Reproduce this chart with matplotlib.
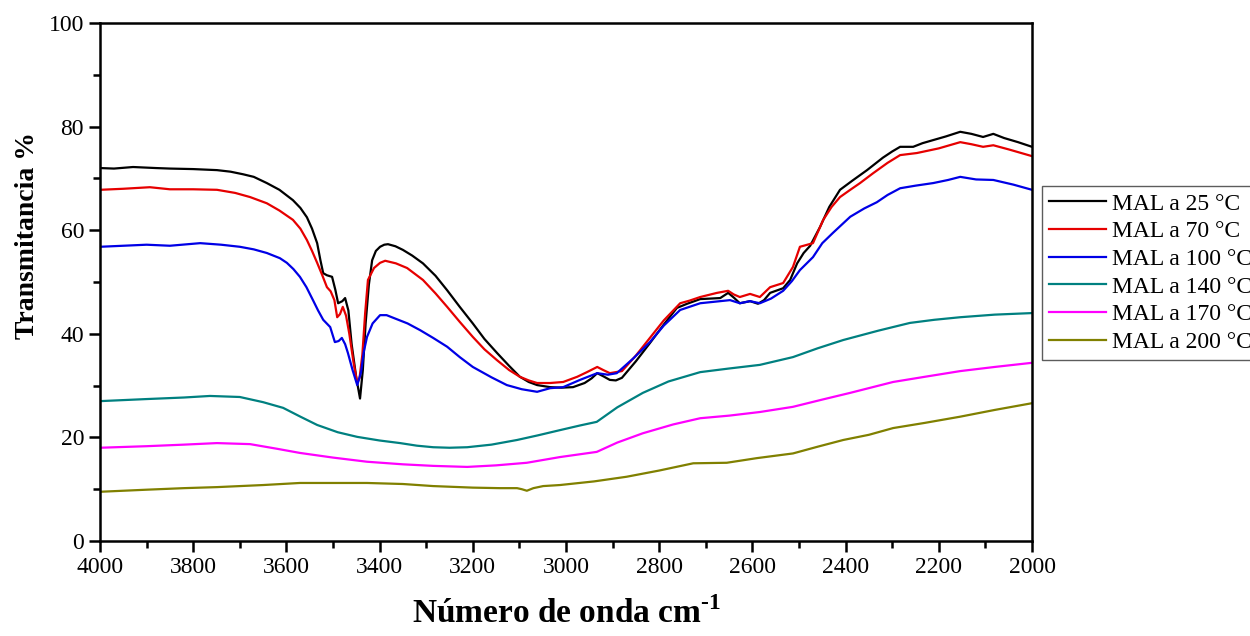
import matplotlib
matplotlib.use("Agg")
import matplotlib.pyplot as plt
from matplotlib.ticker import MultipleLocator

plt.rcParams['font.family'] = ['Liberation Serif', 'DejaVu Serif']
plt.rcParams['mathtext.fontset'] = 'custom'
plt.rcParams['mathtext.rm'] = 'Liberation Serif:bold'
plt.rcParams['mathtext.bf'] = 'Liberation Serif:bold'

# FTIR spectra (wavenumber in cm-1, transmittance in %)
wn_25 = [4000, 3970, 3929, 3880, 3850, 3800, 3749, 3720, 3693, 3670, 3642, 3615, 3586, 3570,
         3556, 3545, 3534, 3527, 3521, 3513, 3502, 3495, 3489, 3480, 3474, 3467, 3460, 3450,
         3442, 3436, 3430, 3423, 3416, 3408, 3399, 3390, 3382, 3366, 3350, 3330, 3307, 3280,
         3255, 3228, 3200, 3175, 3148, 3122, 3099, 3080, 3062, 3034, 3010, 2985, 2960, 2945,
         2933, 2920, 2906, 2893, 2880, 2850, 2820, 2790, 2762, 2740, 2712, 2690, 2669, 2652,
         2640, 2627, 2605, 2588, 2575, 2562, 2534, 2519, 2504, 2490, 2476, 2455, 2435, 2412,
         2385, 2354, 2320, 2300, 2283, 2255, 2235, 2212, 2185, 2154, 2130, 2105, 2083, 2060,
         2030, 2000]
t_25 = [72.0, 71.9, 72.2, 72.0, 71.9, 71.8, 71.6, 71.3, 70.8, 70.3, 69.1, 67.8, 65.8, 64.3,
        62.5, 60.3, 57.5, 54.2, 51.7, 51.3, 51.0, 48.5, 45.9, 46.3, 46.9, 44.5, 38.0, 31.5,
        27.5, 33.0, 42.0, 49.5, 54.2, 56.0, 56.8, 57.2, 57.3, 56.9, 56.2, 55.1, 53.6, 51.2,
        48.4, 45.2, 42.0, 39.0, 36.3, 33.8, 31.7, 30.7, 30.1, 29.7, 29.6, 29.7, 30.5, 31.4,
        32.4, 31.8, 31.1, 31.0, 31.5, 34.7, 38.2, 41.8, 45.0, 45.8, 46.7, 46.8, 46.9, 47.9,
        47.0, 45.9, 46.3, 45.8, 46.5, 47.9, 48.8, 50.4, 53.6, 55.6, 57.0, 60.6, 64.5, 67.8,
        69.6, 71.6, 74.0, 75.2, 76.1, 76.1, 76.8, 77.4, 78.1, 79.0, 78.6, 78.0, 78.6, 77.8,
        77.0, 76.1]

wn_70 = [4000, 3950, 3893, 3850, 3800, 3749, 3710, 3678, 3642, 3615, 3586, 3570, 3556, 3545,
         3534, 3523, 3513, 3505, 3497, 3491, 3485, 3479, 3472, 3465, 3456, 3448, 3443, 3437,
         3431, 3425, 3412, 3399, 3388, 3365, 3341, 3307, 3280, 3255, 3228, 3200, 3175, 3148,
         3122, 3099, 3080, 3062, 3034, 3006, 2976, 2955, 2933, 2920, 2906, 2880, 2850, 2820,
         2790, 2755, 2735, 2712, 2676, 2652, 2640, 2627, 2605, 2584, 2562, 2534, 2513, 2498,
         2470, 2448, 2430, 2412, 2390, 2369, 2341, 2310, 2283, 2247, 2200, 2154, 2130, 2105,
         2083, 2050, 2000]
t_70 = [67.8, 68.0, 68.3, 67.9, 67.9, 67.8, 67.2, 66.4, 65.2, 63.8, 62.0, 60.3, 58.1, 56.0,
        53.7, 51.3, 49.0, 48.2, 46.5, 43.2, 43.8, 45.2, 43.5, 40.0, 34.5, 30.5, 31.5, 36.0,
        44.0, 50.4, 52.7, 53.7, 54.1, 53.6, 52.7, 50.4, 47.8, 45.2, 42.3, 39.4, 37.0, 34.9,
        33.0, 31.7, 31.0, 30.5, 30.5, 30.7, 31.7, 32.6, 33.6, 33.0, 32.4, 32.8, 35.8, 39.2,
        42.6, 45.9, 46.4, 47.1, 47.9, 48.3, 47.6, 47.1, 47.7, 47.1, 49.0, 49.8, 52.9, 56.8,
        57.5, 62.0, 64.5, 66.4, 67.8, 69.1, 71.0, 73.0, 74.5, 74.9, 75.8, 77.0, 76.6, 76.1,
        76.4, 75.6, 74.3]

wn_100 = [4000, 3950, 3900, 3850, 3785, 3740, 3700, 3670, 3642, 3614, 3599, 3585, 3571, 3557,
          3543, 3532, 3521, 3506, 3496, 3488, 3481, 3474, 3468, 3458, 3448, 3440, 3434, 3427,
          3415, 3399, 3385, 3371, 3340, 3313, 3285, 3255, 3228, 3200, 3160, 3127, 3095, 3062,
          3034, 3006, 2970, 2933, 2910, 2891, 2855, 2820, 2790, 2755, 2712, 2680, 2648, 2627,
          2605, 2584, 2560, 2534, 2515, 2498, 2470, 2450, 2427, 2390, 2360, 2333, 2310, 2283,
          2250, 2212, 2180, 2154, 2120, 2083, 2040, 2000]
t_100 = [56.8, 57.0, 57.2, 57.0, 57.5, 57.2, 56.8, 56.3, 55.6, 54.6, 53.7, 52.5, 51.0, 49.0,
         46.5, 44.5, 42.7, 41.3, 38.4, 38.6, 39.2, 38.0, 36.3, 33.0, 30.1, 32.5, 36.5, 39.4,
         42.0, 43.6, 43.6, 43.1, 42.0, 40.7, 39.2, 37.5, 35.5, 33.6, 31.6, 30.1, 29.3, 28.8,
         29.5, 29.7, 31.1, 32.4, 32.1, 32.4, 35.3, 38.4, 41.6, 44.6, 45.9, 46.2, 46.5, 45.9,
         46.3, 45.9, 46.8, 48.3, 50.2, 52.3, 54.8, 57.5, 59.5, 62.6, 64.2, 65.4, 66.8, 68.1,
         68.6, 69.1, 69.7, 70.3, 69.8, 69.7, 68.8, 67.8]

wn_140 = [4000, 3900, 3820, 3764, 3700, 3650, 3607, 3570, 3534, 3490, 3448, 3400, 3356, 3320,
          3285, 3250, 3212, 3160, 3105, 3060, 3013, 2970, 2934, 2890, 2835, 2780, 2712, 2650,
          2584, 2513, 2460, 2405, 2330, 2262, 2210, 2154, 2080, 2000]
t_140 = [27.0, 27.4, 27.7, 28.0, 27.8, 26.8, 25.7, 24.0, 22.4, 21.0, 20.1, 19.4, 18.9, 18.4,
         18.1, 18.0, 18.1, 18.6, 19.5, 20.4, 21.4, 22.3, 23.0, 25.8, 28.6, 30.8, 32.6, 33.3,
         34.0, 35.5, 37.2, 38.8, 40.6, 42.1, 42.7, 43.2, 43.7, 44.0]

wn_170 = [4000, 3900, 3820, 3749, 3678, 3620, 3571, 3500, 3427, 3350, 3285, 3212, 3150, 3084,
          3013, 2934, 2890, 2835, 2770, 2712, 2650, 2584, 2513, 2450, 2390, 2298, 2230, 2154,
          2080, 2000]
t_170 = [18.0, 18.3, 18.6, 18.9, 18.7, 17.8, 17.0, 16.1, 15.3, 14.8, 14.5, 14.3, 14.6, 15.1,
         16.2, 17.2, 19.0, 20.8, 22.5, 23.7, 24.2, 24.9, 25.9, 27.3, 28.6, 30.7, 31.7, 32.8,
         33.6, 34.4]

wn_200 = [4000, 3900, 3820, 3749, 3650, 3571, 3500, 3427, 3350, 3285, 3200, 3142, 3105, 3095,
          3084, 3070, 3049, 3013, 2940, 2870, 2800, 2727, 2655, 2590, 2513, 2460, 2405, 2350,
          2298, 2230, 2154, 2080, 2000]
t_200 = [9.5, 9.9, 10.2, 10.4, 10.8, 11.2, 11.2, 11.2, 11.0, 10.6, 10.3, 10.2, 10.2, 10.0,
         9.7, 10.2, 10.6, 10.8, 11.5, 12.4, 13.6, 15.0, 15.1, 16.0, 16.9, 18.2, 19.5, 20.5,
         21.8, 22.8, 24.0, 25.3, 26.6]

labels = ['MAL a 25 °C', 'MAL a 70 °C', 'MAL a 100 °C',
          'MAL a 140 °C', 'MAL a 170 °C', 'MAL a 200 °C']
colors = ['#000000', '#e60000', '#0000e6', '#008080', '#ff00ff', '#808000']
series = [(wn_25, t_25), (wn_70, t_70), (wn_100, t_100),
          (wn_140, t_140), (wn_170, t_170), (wn_200, t_200)]

fig = plt.figure(figsize=(12.5, 6.36), dpi=100)
ax = fig.add_axes([0.08, 0.1494, 0.7456, 0.8144])

for (x, y), c, lab in zip(series, colors, labels):
    ax.plot(x, y, color=c, lw=1.6, label=lab)

ax.set_xlim(4000, 2000)
ax.set_ylim(0, 100)
ax.xaxis.set_major_locator(MultipleLocator(200))
ax.xaxis.set_minor_locator(MultipleLocator(100))
ax.yaxis.set_major_locator(MultipleLocator(20))
ax.yaxis.set_minor_locator(MultipleLocator(10))
ax.tick_params(which='both', direction='out', top=False, right=False, width=1.8,
               labelsize=17)
ax.tick_params(which='major', length=8)
ax.tick_params(which='minor', length=5)
for s in ax.spines.values():
    s.set_linewidth(1.8)

ax.set_xlabel(r'Número de onda cm$^{\text{-1}}$', fontsize=24, fontweight='bold',
              labelpad=14)
ax.set_ylabel('Transmitancia %', fontsize=20, fontweight='bold')
ax.yaxis.set_label_coords(-0.064, 0.59)

leg = ax.legend(loc='upper left', bbox_to_anchor=(0.8336, 0.7075),
                bbox_transform=fig.transFigure, borderaxespad=0, fontsize=17,
                frameon=True, fancybox=False, edgecolor='#333333', handlelength=2.4,
                handletextpad=0.25, labelspacing=0.26, borderpad=0.3)
leg.get_frame().set_linewidth(1.0)

fig.savefig('out.png', dpi=100)
